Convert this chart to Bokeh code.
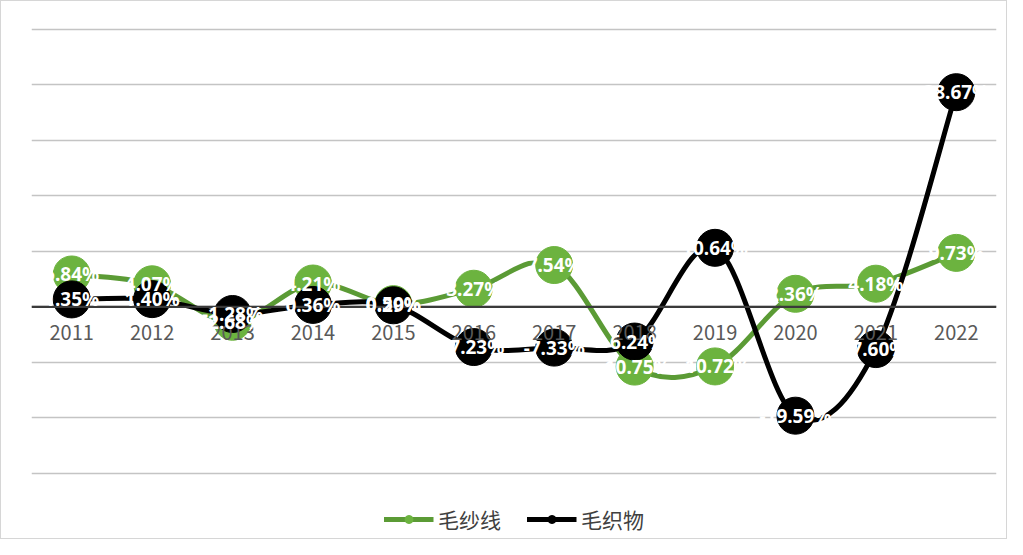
from bokeh.plotting import figure
from bokeh.models import Range1d, FixedTicker, Legend, LegendItem, Span, LabelSet, ColumnDataSource
from bokeh.core.properties import value
from bokeh.embed import file_html
from bokeh.resources import INLINE

years = ["2011", "2012", "2013", "2014", "2015", "2016", "2017", "2018", "2019", "2020", "2021", "2022"]
yarn = [5.84, 4.07, -2.68, 4.21, 0.50, 3.27, 7.54, -10.75, -10.72, 2.36, 4.18, 9.73]      # 毛纱线
fabric = [1.35, 1.40, -1.28, 0.36, 0.29, -7.23, -7.33, -6.24, 10.64, -19.59, -7.60, 38.67]  # 毛织物
series_names = ["毛纱线", "毛织物"]
grid_ticks = [-30, -20, -10, 0, 10, 20, 30, 40, 50]

GREEN_LINE = "#5b9b35"
GREEN_FILL = "#6cb33f"
BLACK = "#000000"
FONT = "Noto Sans CJK SC"

p = figure(width=1007, height=539, output_backend="svg", toolbar_location=None,
           x_range=Range1d(start=0, end=len(years)), y_range=Range1d(start=-42.07, end=50.5),
           min_border_left=30, min_border_right=12, min_border_top=25, min_border_bottom=0)
p.outline_line_color = None
p.xaxis.visible = False
p.yaxis.visible = False
p.xgrid.visible = False
p.ygrid.ticker = FixedTicker(ticks=grid_ticks)
p.ygrid.grid_line_color = "#c4c4c4"
p.ygrid.grid_line_width = 1.5
p.styles = {"border": "1px solid #d6d6d6"}

p.add_layout(Span(location=0, dimension="width", line_color="#3a3a3a", line_width=2.2))

xs = [i + 0.5 for i in range(len(years))]

year_src = ColumnDataSource(dict(x=xs, y=[0] * len(xs), t=years))
p.add_layout(LabelSet(x="x", y="y", text="t", source=year_src, text_align="center",
                      text_baseline="middle", y_offset=-26, text_font=value(FONT),
                      text_font_size="20px", text_color="#595959"))


def smooth_segments(x, y):
    n = len(x)
    seg = dict(x0=[], y0=[], x1=[], y1=[], cx0=[], cy0=[], cx1=[], cy1=[])
    for i in range(n - 1):
        xp, yp = (x[i - 1], y[i - 1]) if i > 0 else (x[i], y[i])
        xn, yn = (x[i + 2], y[i + 2]) if i + 2 < n else (x[i + 1], y[i + 1])
        seg["x0"].append(x[i]); seg["y0"].append(y[i])
        seg["x1"].append(x[i + 1]); seg["y1"].append(y[i + 1])
        seg["cx0"].append(x[i] + (x[i + 1] - xp) / 6.0)
        seg["cy0"].append(y[i] + (y[i + 1] - yp) / 6.0)
        seg["cx1"].append(x[i + 1] - (xn - x[i]) / 6.0)
        seg["cy1"].append(y[i + 1] - (yn - y[i]) / 6.0)
    return ColumnDataSource(seg)


legend_items = []
for vals, line_c, fill_c, name in [(yarn, GREEN_LINE, GREEN_FILL, series_names[0]),
                                   (fabric, BLACK, BLACK, series_names[1])]:
    lr = p.bezier(x0="x0", y0="y0", x1="x1", y1="y1", cx0="cx0", cy0="cy0", cx1="cx1", cy1="cy1",
                  source=smooth_segments(xs, vals), line_color=line_c, line_width=5)
    sr = p.scatter(x=xs, y=vals, size=11, fill_color=fill_c, line_color=fill_c)
    p.scatter(x=xs, y=vals, size=37, fill_color=fill_c, line_color=fill_c)
    lab_src = ColumnDataSource(dict(x=xs, y=vals, t=[f"{v:.2f}%" for v in vals]))
    p.add_layout(LabelSet(x="x", y="y", text="t", source=lab_src, text_align="center",
                          text_baseline="middle", text_font=value("Noto Sans"),
                          text_font_style="bold", text_font_size="19px", text_color="white"))
    legend_items.append(LegendItem(label=name, renderers=[lr, sr]))

legend = Legend(items=legend_items, orientation="horizontal", location="bottom_center",
                label_text_font=FONT, label_text_font_size="21px", label_text_color="#404040",
                glyph_width=50, glyph_height=20, spacing=25, label_standoff=5,
                border_line_color=None, background_fill_alpha=0, margin=6, padding=4)
p.add_layout(legend)

open("out.html", "w").write(file_html(p, INLINE))
